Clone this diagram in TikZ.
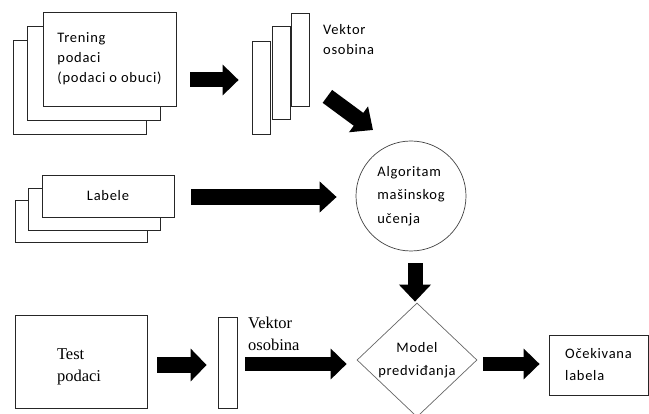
\documentclass[tikz,border=0pt]{standalone}
\usepackage{fontspec}
\setmainfont{Carlito}[LetterSpace=5]
\newfontfamily\timesface{Liberation Serif}
\usetikzlibrary{arrows.meta,shapes.geometric}

\begin{document}
\begin{tikzpicture}[
  x=1pt, y=-1pt,
  font=\fontsize{14.5}{20}\selectfont,
  sheet/.style={draw=black!85, line width=0.8pt, fill=white, inner sep=0pt},
  page/.style={sheet, minimum width=133pt, minimum height=94pt},
  card/.style={sheet, minimum width=132pt, minimum height=42pt},
  strip/.style={sheet, minimum width=18pt, minimum height=93pt},
  note/.style={align=left, inner sep=0pt},
  serif/.style={font=\timesface\fontsize{16.5}{22}\selectfont},
  algo/.style={circle, draw=black!75, line width=0.7pt, minimum size=110pt, inner sep=0pt,
    align=left, font=\fontsize{14.5}{23.5}\selectfont},
  decision/.style={diamond, draw=black!60, line width=0.7pt, minimum width=120pt,
    minimum height=114pt, inner sep=0pt},
  bigarrow/.style={line width=15pt, -{Triangle[length=16pt, width=30pt]}}
]
\useasboundingbox (0,0) rectangle (649,414);

\node[page] (trening3) at (79.5,87) {};
\node[page] (trening2) at (94,73) {};
\node[page, align=left] (trening) at (109.5,59) {Trening\\podaci\\(podaci o obuci)};

\node[strip] (vecA) at (261,88) {};
\node[strip] (vecB) at (281,73) {};
\node[strip] (vecC) at (300,59.5) {};
\node[note, anchor=west] (vectxt) at (323,40) {Vektor\\osobina};

\node[card] (labele3) at (81,221) {};
\node[card] (labele2) at (94,209) {};
\node[card] (labele) at (108,196) {Labele};

\node[algo] (alg) at (411,196) {Algoritam\\mašinskog\\učenja};

\node[sheet, minimum width=132pt, minimum height=93pt,
  label={[serif, align=left, xshift=-2pt, yshift=-5pt]center:{Test\\podaci}}] (test) at (81,361.5) {};
\node[strip, minimum width=19pt, minimum height=91pt] (vecT) at (227.5,362.5) {};
\node[note, serif, anchor=west] (vectxt2) at (248,334) {Vektor\\osobina};

\node[decision, label={[align=center, font=\fontsize{14.5}{23}\selectfont]center:{Model\\predviđanja}}]
  (model) at (417,360) {};

\node[sheet, minimum width=99pt, minimum height=60pt, align=left,
  font=\fontsize{14.5}{22}\selectfont] (result) at (598.5,365) {Očekivana\\labela};

\draw[bigarrow] ([shift={(14,21)}]trening.east) -- ([shift={(-13,21)}]trening.east -| vecA.west);
\draw[bigarrow, line width=16pt, -{Triangle[length=17pt, width=30pt]}]
  ([shift={(17,1)}]labele.east) -- ([shift={(-19,1)}]labele.east -| alg.west);
\draw[bigarrow, line width=16pt, -{Triangle[length=18pt, width=31pt]}]
  ([shift={(18,-10)}]vecC.south east) -- ([shift={(-38,-66)}]alg.center);
\draw[bigarrow, -{Triangle[length=17pt, width=31pt]}]
  ([shift={(4,12)}]alg.south) -- ([shift={(-2,-1)}]model.north);
\draw[bigarrow, line width=16pt, -{Triangle[length=16pt, width=32pt]}]
  ([shift={(10,3.5)}]test.east) -- ([shift={(-11,2.5)}]vecT.west);
\draw[bigarrow, line width=14pt] ([shift={(8,1.5)}]vecT.east) -- ([shift={(-10,4)}]model.west);
\draw[bigarrow, line width=14pt] ([shift={(6,4)}]model.east) -- ([shift={(-9,-1)}]result.west);
\end{tikzpicture}
\end{document}
